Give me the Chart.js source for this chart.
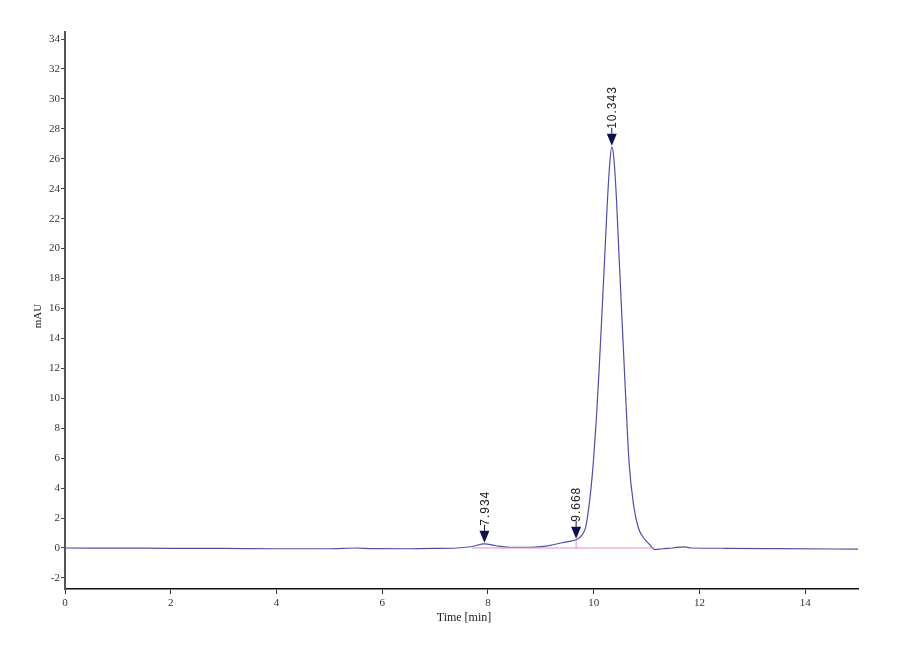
<!DOCTYPE html>
<html>
<head>
<meta charset="utf-8">
<script src="https://cdn.jsdelivr.net/npm/chart.js@4/dist/chart.umd.min.js"></script>
<style>
  body { margin: 0; background: #fff; }
  canvas { display: block; }
</style>
</head>
<body>
<canvas id="myChart" width="900" height="660"></canvas>
<script>
// Chromatogram trace (time in min, signal in mAU)
const times = [0, 1, 2, 3, 4, 5, 5.5, 5.8, 6.5, 7.0, 7.4, 7.7, 7.934, 8.15, 8.4, 8.8, 9.1, 9.4, 9.668, 9.72, 9.78, 9.85,
  9.9, 9.95, 10.0, 10.05, 10.1, 10.15, 10.2, 10.25, 10.3, 10.343, 10.38, 10.43, 10.48, 10.545, 10.6, 10.67, 10.75,
  10.85, 10.95, 11.04, 11.16, 11.3, 11.5, 11.7, 11.85, 12.5, 13.5, 15];
const signal = [0, -0.01, -0.02, -0.03, -0.05, -0.05, 0.0, -0.04, -0.05, -0.03, 0.0, 0.1, 0.28, 0.15, 0.05, 0.05, 0.12, 0.35, 0.55, 0.65, 0.88, 1.4,
  2.5, 4.0, 6.0, 8.6, 11.7, 15.2, 18.8, 22.5, 25.5, 26.8, 26.1, 23.4, 19.5, 14.6, 10.5, 5.7, 3.0,
  1.3, 0.65, 0.3, -0.1, -0.05, 0.0, 0.08, 0.0, -0.02, -0.04, -0.08];

// integration baseline and peak drop line
const baseT = [7.7, 11.16];
const baseV = [0, 0];
const dropT = [9.668, 9.668];
const dropV = [0, 0.55];

// labelled peaks
const peakTimes = [7.934, 9.668, 10.343];
const peakHeights = [0.28, 0.55, 26.8];
const peakLabels = ['7.934', '9.668', '10.343'];

// tick labels
const xTicks = [0, 2, 4, 6, 8, 10, 12, 14];
const yTicks = [-2, 0, 2, 4, 6, 8, 10, 12, 14, 16, 18, 20, 22, 24, 26, 28, 30, 32, 34];

const toPts = (xs, ys) => xs.map((x, i) => ({ x: x, y: ys[i] }));

const peakMarkers = {
  id: 'peakMarkers',
  afterDatasetsDraw(chart) {
    const c = chart.ctx;
    const xs = chart.scales.x, ys = chart.scales.y;
    c.save();
    peakTimes.forEach((t, i) => {
      const px = xs.getPixelForValue(t);
      const py = ys.getPixelForValue(peakHeights[i]) - 1;
      c.fillStyle = '#10104a';
      c.strokeStyle = '#10104a';
      c.beginPath();
      c.moveTo(px, py);
      c.lineTo(px - 5, py - 12);
      c.lineTo(px + 5, py - 12);
      c.closePath();
      c.fill();
      c.lineWidth = 1;
      c.beginPath();
      c.moveTo(px, py - 12);
      c.lineTo(px, py - 18);
      c.stroke();
      c.save();
      c.translate(px + 1, py - 17);
      c.rotate(-Math.PI / 2);
      c.font = '12px "Liberation Sans"';
      c.letterSpacing = '1px';
      c.fillStyle = '#222';
      c.textAlign = 'left';
      c.textBaseline = 'middle';
      c.fillText(peakLabels[i], 0, 0);
      c.restore();
    });
    c.restore();
  },
  afterDraw(chart) {
    const c = chart.ctx;
    c.save();
    c.fillStyle = '#222';
    c.font = '12px "Liberation Serif"';
    c.textAlign = 'center';
    c.textBaseline = 'middle';
    c.fillText('Time [min]', 464, 618);
    c.translate(38, 316);
    c.rotate(-Math.PI / 2);
    c.font = '11px "Liberation Serif"';
    c.fillText('mAU', 0, 0);
    c.restore();
  }
};

const ctx = document.getElementById('myChart').getContext('2d');

const myChart = new Chart(ctx, {
  type: 'scatter',
  data: {
    datasets: [
      {
        data: toPts(baseT, baseV),
        showLine: true,
        borderColor: '#e48cc8',
        borderWidth: 1.2,
        pointRadius: 0
      },
      {
        data: toPts(dropT, dropV),
        showLine: true,
        borderColor: '#e48cc8',
        borderWidth: 1,
        pointRadius: 0
      },
      {
        data: toPts(times, signal),
        showLine: true,
        borderColor: '#4f4fa8',
        borderWidth: 1.2,
        pointRadius: 0,
        cubicInterpolationMode: 'monotone'
      }
    ]
  },
  options: {
    responsive: false,
    animation: false,
    layout: { padding: { top: 32, right: 42, left: 0, bottom: 0 } },
    plugins: { legend: { display: false }, tooltip: { enabled: false } },
    scales: {
      x: {
        type: 'linear',
        min: 0,
        max: 15,
        afterBuildTicks: s => { s.ticks = xTicks.map(v => ({ value: v })); },
        afterFit: s => { s.height = 71; },
        grid: { drawOnChartArea: false, drawTicks: true, tickLength: 5, color: '#333' },
        border: { color: '#111', width: 1.5 },
        ticks: { color: '#333', padding: 3, maxRotation: 0, font: { family: 'Liberation Serif', size: 11 } }
      },
      y: {
        type: 'linear',
        min: -2.74,
        max: 34.47,
        afterBuildTicks: s => { s.ticks = yTicks.map(v => ({ value: v })); },
        afterFit: s => { s.width = 65; },
        grid: { drawOnChartArea: false, drawTicks: true, tickLength: 4, color: '#444' },
        border: { color: '#555', width: 2 },
        ticks: { color: '#333', padding: 1, font: { family: 'Liberation Serif', size: 11 } }
      }
    }
  },
  plugins: [peakMarkers]
});
</script>
</body>
</html>
